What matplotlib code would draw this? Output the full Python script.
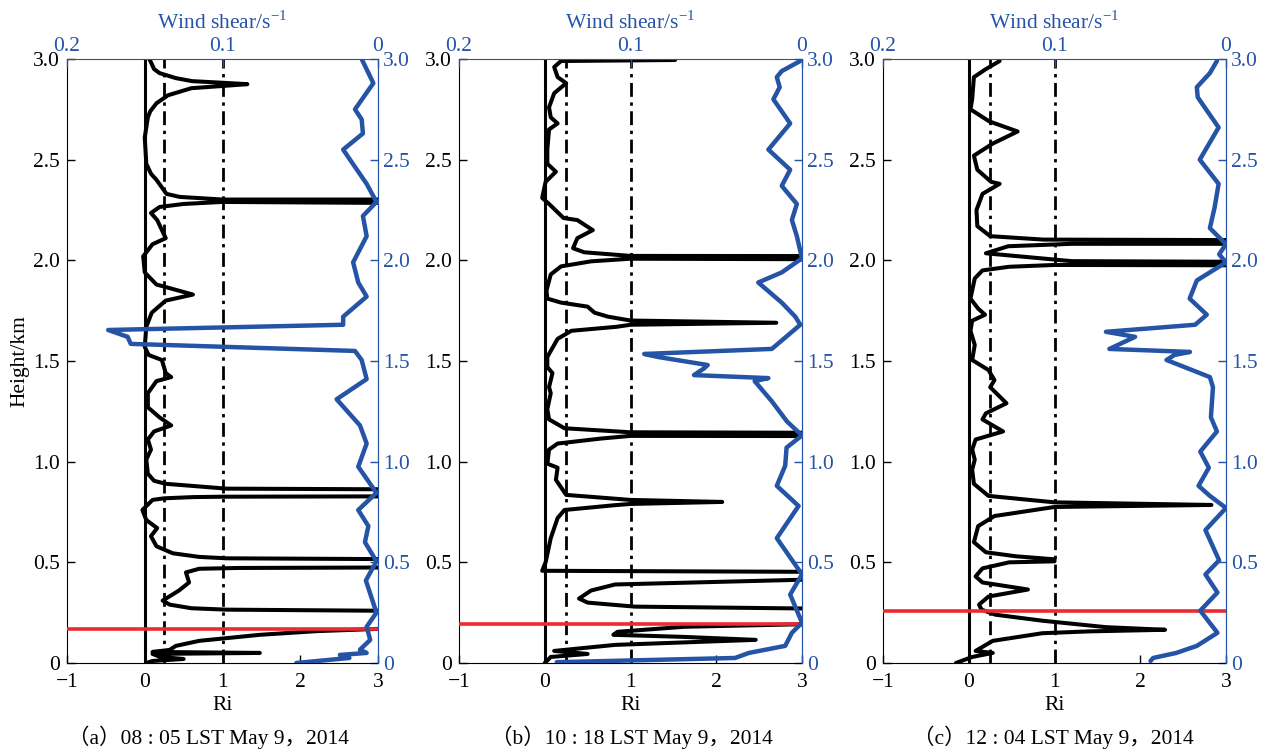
import numpy as np
import matplotlib
matplotlib.use("Agg")
import matplotlib.pyplot as plt

plt.rcParams['font.family'] = ['Liberation Serif', 'Noto Sans CJK SC']
plt.rcParams['mathtext.fontset'] = 'custom'
plt.rcParams['mathtext.rm'] = 'Liberation Serif'
plt.rcParams['axes.unicode_minus'] = True

BLUE = '#2553a6'
RED = '#ec2a2f'
FS = 15.5

# ── Ri profiles: (Ri, height km), values beyond 3 run off the axis ─────────
ri_a = [(0.06, 3.00), (0.12, 2.95), (0.19, 2.93), (0.40, 2.905), (0.61, 2.89),
        (1.0, 2.882), (1.32, 2.875), (1.0, 2.866), (0.60, 2.855), (0.30, 2.82),
        (0.15, 2.78), (0.07, 2.74), (0.04, 2.71), (0.00, 2.61), (0.02, 2.48),
        (0.08, 2.43), (0.15, 2.40), (0.28, 2.33), (0.45, 2.315), (1.0, 2.302),
        (3.6, 2.302), (3.6, 2.284), (1.0, 2.290), (0.50, 2.28), (0.19, 2.265),
        (0.08, 2.235), (0.16, 2.20), (0.27, 2.11), (0.10, 2.08), (-0.02, 2.02),
        (0.00, 1.94), (0.15, 1.88), (0.62, 1.83), (0.27, 1.80), (0.09, 1.74),
        (0.02, 1.67), (0.00, 1.57), (0.05, 1.53), (0.22, 1.505), (0.27, 1.44),
        (0.34, 1.42), (0.15, 1.40), (0.04, 1.34), (0.04, 1.27), (0.19, 1.22),
        (0.34, 1.18), (0.12, 1.15), (0.04, 1.11), (0.08, 1.06), (0.02, 1.01),
        (0.04, 0.94), (0.12, 0.905), (0.27, 0.89), (0.60, 0.88), (1.05, 0.866),
        (3.6, 0.862), (3.6, 0.828), (1.0, 0.826), (0.62, 0.824), (0.25, 0.818),
        (0.10, 0.81), (-0.03, 0.76), (0.02, 0.71), (0.16, 0.67), (0.08, 0.63),
        (0.15, 0.58), (0.36, 0.545), (0.70, 0.527), (1.05, 0.52), (3.6, 0.515),
        (3.6, 0.475), (1.2, 0.472), (0.70, 0.468), (0.53, 0.45), (0.57, 0.40),
        (0.44, 0.36), (0.23, 0.31), (0.32, 0.29), (0.60, 0.272), (1.05, 0.265),
        (3.6, 0.258), (3.6, 0.178), (2.2, 0.158), (1.48, 0.14), (0.70, 0.11),
        (0.40, 0.085), (0.32, 0.065), (0.10, 0.055), (1.48, 0.050),
        (0.10, 0.045), (0.20, 0.03), (0.50, 0.02), (0.10, 0.01), (0.02, 0.00)]

ri_b = [(1.52, 2.995), (0.19, 2.99), (0.11, 2.96), (0.15, 2.91), (0.25, 2.88),
        (0.11, 2.83), (0.05, 2.76), (0.07, 2.71), (0.15, 2.68), (0.05, 2.65),
        (0.03, 2.55), (0.03, 2.48), (0.13, 2.44), (0.01, 2.39), (-0.03, 2.31),
        (0.05, 2.28), (0.22, 2.21), (0.38, 2.20), (0.56, 2.15), (0.38, 2.11),
        (0.33, 2.06), (0.46, 2.04), (1.00, 2.022), (3.6, 2.021), (3.6, 2.005),
        (1.00, 2.008), (0.54, 1.995), (0.19, 1.97), (0.07, 1.93), (0.02, 1.85),
        (0.03, 1.81), (0.19, 1.79), (0.50, 1.77), (0.58, 1.74), (0.74, 1.72),
        (1.00, 1.701), (2.70, 1.69), (1.00, 1.680), (0.84, 1.670), (0.31, 1.65),
        (0.15, 1.61), (0.03, 1.52), (0.03, 1.47), (0.09, 1.44), (0.05, 1.37),
        (0.07, 1.34), (0.03, 1.26), (0.05, 1.21), (0.23, 1.166), (1.00, 1.146),
        (3.6, 1.143), (3.6, 1.127), (1.00, 1.128), (0.66, 1.115), (0.15, 1.09),
        (0.05, 1.06), (0.03, 0.99), (0.15, 0.97), (0.13, 0.91), (0.25, 0.835),
        (1.00, 0.810), (2.07, 0.80), (1.00, 0.790), (0.82, 0.784), (0.23, 0.76),
        (0.15, 0.72), (0.07, 0.62), (0.01, 0.50), (-0.03, 0.458), (3.6, 0.452),
        (3.6, 0.42), (0.82, 0.39), (0.54, 0.36), (0.40, 0.32), (0.50, 0.30),
        (1.05, 0.28), (3.6, 0.268), (3.6, 0.198), (1.63, 0.18), (0.85, 0.155),
        (0.80, 0.14), (1.60, 0.13), (2.46, 0.115), (0.82, 0.09), (0.11, 0.06),
        (0.50, 0.045), (0.07, 0.03), (0.00, 0.00)]

ri_c = [(0.36, 2.99), (0.20, 2.95), (0.06, 2.91), (0.04, 2.80), (0.02, 2.75),
        (0.24, 2.69), (0.57, 2.64), (0.28, 2.58), (0.06, 2.52), (0.10, 2.45),
        (0.26, 2.39), (0.36, 2.38), (0.16, 2.33), (0.09, 2.25), (0.10, 2.17),
        (0.25, 2.12), (0.87, 2.103), (3.6, 2.100), (3.6, 2.082), (1.20, 2.082),
        (0.46, 2.070), (0.20, 2.035), (1.20, 1.996), (3.6, 1.992), (3.6, 1.975),
        (1.00, 1.977), (0.47, 1.968), (0.16, 1.95), (0.07, 1.91), (0.02, 1.81),
        (0.11, 1.76), (0.19, 1.73), (0.04, 1.70), (0.02, 1.65), (0.07, 1.58),
        (0.04, 1.505), (0.23, 1.455), (0.30, 1.405), (0.25, 1.37), (0.44, 1.29),
        (0.20, 1.24), (0.16, 1.21), (0.40, 1.15), (0.08, 1.11), (0.04, 1.06),
        (0.07, 1.01), (0.04, 0.96), (0.06, 0.89), (0.23, 0.83), (1.00, 0.798),
        (2.83, 0.785), (1.00, 0.775), (0.30, 0.73), (0.11, 0.68), (0.06, 0.60),
        (0.20, 0.55), (0.55, 0.53), (1.00, 0.515), (1.00, 0.505), (0.47, 0.50),
        (0.16, 0.47), (0.08, 0.43), (0.16, 0.40), (0.69, 0.365), (0.23, 0.33),
        (0.12, 0.29), (0.15, 0.265), (0.31, 0.24), (0.86, 0.21), (1.60, 0.178),
        (2.29, 0.165), (1.40, 0.157), (0.86, 0.148), (0.28, 0.11), (0.08, 0.06),
        (0.28, 0.05), (0.04, 0.03), (-0.15, 0.00)]

# ── Wind shear profiles: (shear s^-1, height km) ───────────────────────────
shear_a = [(0.0105, 3.00), (0.003, 2.88), (0.0148, 2.75), (0.0105, 2.70),
           (0.0097, 2.63), (0.0224, 2.55), (0.018, 2.50), (0.0073, 2.38),
           (0.001, 2.29), (0.0097, 2.22), (0.0073, 2.12), (0.016, 1.99),
           (0.0127, 1.89), (0.0073, 1.82), (0.0224, 1.72), (0.0224, 1.68),
           (0.1735, 1.654), (0.161, 1.62), (0.159, 1.585), (0.0148, 1.55),
           (0.0105, 1.505), (0.0073, 1.41), (0.0266, 1.31), (0.0116, 1.18),
           (0.0073, 1.09), (0.0127, 0.975), (0.001, 0.845), (0.0127, 0.76),
           (0.0062, 0.68), (0.0084, 0.60), (0.001, 0.505), (0.0078, 0.41),
           (0.001, 0.25), (0.0073, 0.18), (0.005, 0.115), (0.0116, 0.066),
           (0.0073, 0.05), (0.0245, 0.04), (0.0184, 0.025), (0.0525, 0.00)]

shear_b = [(0.001, 2.99), (0.0118, 2.94), (0.0147, 2.91), (0.013, 2.86),
           (0.0167, 2.80), (0.0069, 2.68), (0.0196, 2.55), (0.0069, 2.45),
           (0.0118, 2.37), (0.003, 2.28), (0.0059, 2.20), (0.003, 2.12),
           (0.000, 2.01), (0.0118, 1.94), (0.0255, 1.89), (0.0118, 1.79),
           (0.0039, 1.72), (0.001, 1.68), (0.0176, 1.56), (0.092, 1.535),
           (0.084, 1.52), (0.055, 1.48), (0.057, 1.464), (0.063, 1.43),
           (0.0196, 1.415), (0.0276, 1.40), (0.0176, 1.30), (0.0088, 1.20),
           (0.000, 1.13), (0.009, 1.07), (0.0098, 0.98), (0.0147, 0.88),
           (0.002, 0.78), (0.0147, 0.62), (0.000, 0.44), (0.0069, 0.34),
           (0.000, 0.20), (0.0059, 0.15), (0.0098, 0.085), (0.031, 0.05),
           (0.039, 0.025), (0.143, 0.004)]

shear_c = [(0.0053, 2.99), (0.0094, 2.93), (0.017, 2.86), (0.0165, 2.81),
           (0.0043, 2.66), (0.0153, 2.50), (0.0043, 2.38), (0.0067, 2.26),
           (0.0094, 2.16), (0.000, 2.08), (0.004, 2.03), (0.000, 1.99),
           (0.017, 1.90), (0.0212, 1.81), (0.0112, 1.73), (0.018, 1.68),
           (0.070, 1.645), (0.053, 1.62), (0.068, 1.56), (0.021, 1.545),
           (0.030, 1.53), (0.0347, 1.505), (0.0094, 1.42), (0.0076, 1.37),
           (0.0088, 1.22), (0.0053, 1.15), (0.015, 1.05), (0.010, 0.97),
           (0.016, 0.88), (0.0094, 0.83), (0.000, 0.77), (0.012, 0.66),
           (0.004, 0.51), (0.012, 0.44), (0.005, 0.35), (0.015, 0.26),
           (0.005, 0.15), (0.017, 0.085), (0.029, 0.05), (0.0425, 0.025),
           (0.044, 0.01)]

# boundary-layer top (km)
pbl_heights = [0.17, 0.195, 0.26]

captions = ['（a）08 : 05 LST May 9，2014',
            '（b）10 : 18 LST May 9，2014',
            '（c）12 : 04 LST May 9，2014']

ri_ticks = [-1, 0, 1, 2, 3]
ri_ticklabels = ['\u22121', '0', '1', '2', '3']
h_ticks = [0, 0.5, 1.0, 1.5, 2.0, 2.5, 3.0]
h_ticklabels = ['0', '0.5', '1.0', '1.5', '2.0', '2.5', '3.0']
shear_ticks = [0.2, 0.1, 0]
shear_ticklabels = ['0.2', '0.1', '0']

W, H = 1271, 752
# axes boxes in pixels: left, right
boxes = [(67, 378), (459, 802), (883, 1226)]
top_px, bot_px = 59, 663
caption_x = [208, 632, 1053]


def draw_panel(fig, box, ri, shear, pbl, caption, cx, ylabel=False):
    l, r = box
    ax = fig.add_axes([l / W, (H - bot_px) / H, (r - l) / W,
                       (bot_px - top_px) / H])
    ax.set_xlim(-1, 3)
    ax.set_ylim(0, 3)

    ax.axvline(0, color='k', lw=2.2, zorder=2)
    for xv in (0.25, 1):
        ax.axvline(xv, color='k', lw=2.0, ls=(0, (5, 2, 1.2, 2)), zorder=2)

    ri = np.array(ri)
    ax.plot(ri[:, 0], ri[:, 1], color='k', lw=2.9,
            solid_joinstyle='round', solid_capstyle='round', zorder=3)
    ax.axhline(pbl, color=RED, lw=2.6, zorder=4)

    ax.set_xticks(ri_ticks)
    ax.set_xticklabels(ri_ticklabels)
    ax.set_yticks(h_ticks)
    ax.set_yticklabels(h_ticklabels)
    ax.tick_params(direction='in', length=6, labelsize=FS, width=1)
    ax.tick_params(axis='x', pad=7)
    ax.tick_params(axis='y', pad=5)
    ax.set_xlabel('Ri', fontsize=FS)
    ax.xaxis.set_label_coords(0.5, -0.055)
    if ylabel:
        ax.set_ylabel('Height/km', fontsize=FS, labelpad=3)
    ax.spines['top'].set_visible(False)
    ax.spines['right'].set_visible(False)

    right = ax.secondary_yaxis('right')
    right.set_yticks(h_ticks)
    right.set_yticklabels(h_ticklabels)
    right.tick_params(direction='in', length=6, labelsize=FS,
                      colors=BLUE, width=1)
    right.spines['right'].set_color(BLUE)

    ax2 = ax.twiny()
    ax2.set_xlim(0.2, 0)
    sh = np.array(shear)
    ax2.plot(sh[:, 0], sh[:, 1], color=BLUE, lw=3.2,
             solid_joinstyle='round', solid_capstyle='round')
    ax2.set_xticks(shear_ticks)
    ax2.set_xticklabels(shear_ticklabels)
    ax2.tick_params(direction='in', length=6, labelsize=FS,
                    colors=BLUE, width=1, pad=2)
    ax2.set_xlabel('Wind shear/s$^{-1}$', fontsize=FS, color=BLUE,
                   labelpad=6)
    ax2.spines['left'].set_visible(False)
    ax2.spines['bottom'].set_visible(False)
    ax2.spines['top'].set_color(BLUE)
    ax2.spines['right'].set_color(BLUE)

    fig.text(cx / W, 8 / H, caption, fontsize=FS, ha='center',
             va='baseline')


fig = plt.figure(figsize=(W / 100, H / 100), dpi=100)
panels = [(ri_a, shear_a), (ri_b, shear_b), (ri_c, shear_c)]
for i, (ri, sh) in enumerate(panels):
    draw_panel(fig, boxes[i], ri, sh, pbl_heights[i], captions[i],
               caption_x[i], ylabel=(i == 0))

fig.savefig('out.png', dpi=100)
